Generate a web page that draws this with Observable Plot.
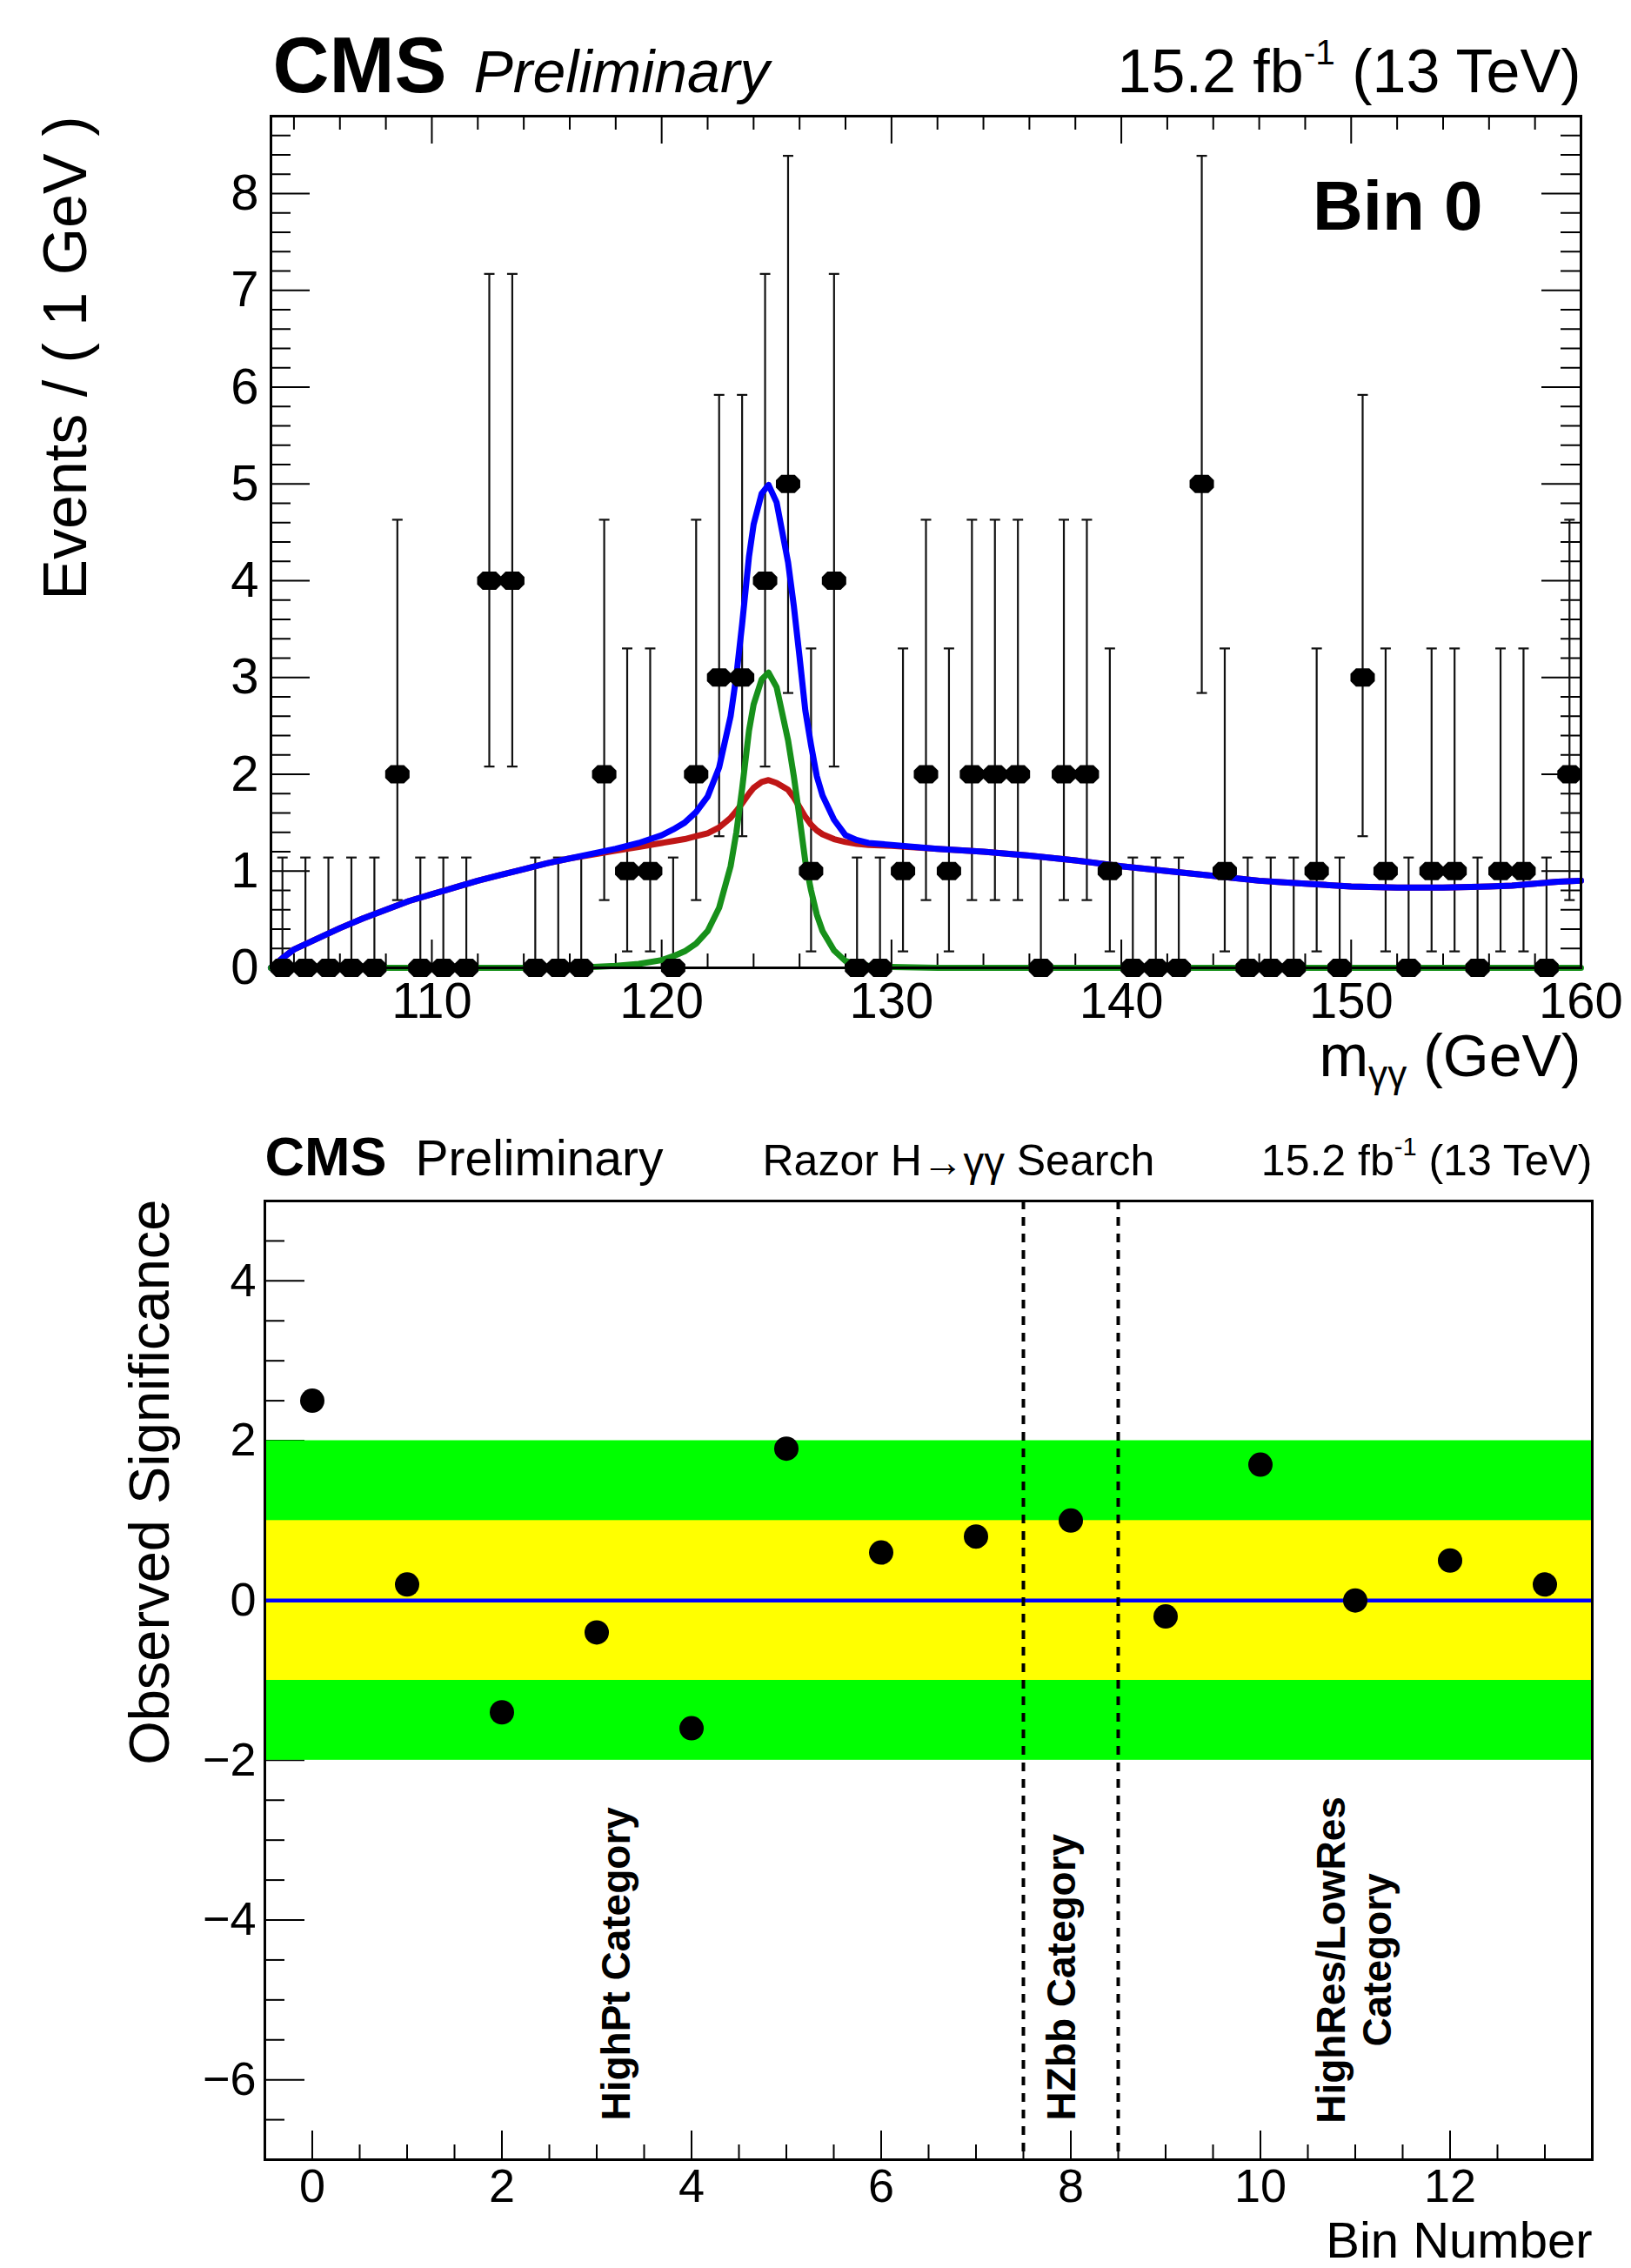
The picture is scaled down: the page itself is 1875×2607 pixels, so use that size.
<!DOCTYPE html>
<html>
<head>
<meta charset="utf-8">
<script src="https://cdn.jsdelivr.net/npm/d3@7"></script>
<script src="https://cdn.jsdelivr.net/npm/@observablehq/plot@0.6"></script>
<style>
html, body { margin: 0; padding: 0; background: #fff; }
svg { display: block; }
</style>
</head>
<body>
<div id="top"></div>
<div id="bottom"></div>
<script>
const FONT = "'Liberation Sans', Arial, Helvetica, sans-serif";

// ---------------- Top panel data (Bin 0 diphoton mass) ----------------
const massBins = [103.5,104.5,105.5,106.5,107.5,108.5,109.5,110.5,111.5,112.5,113.5,114.5,115.5,116.5,117.5,118.5,119.5,120.5,121.5,122.5,123.5,124.5,125.5,126.5,127.5,128.5,129.5,130.5,131.5,132.5,133.5,134.5,135.5,136.5,137.5,138.5,139.5,140.5,141.5,142.5,143.5,144.5,145.5,146.5,147.5,148.5,149.5,150.5,151.5,152.5,153.5,154.5,155.5,156.5,157.5,158.5,159.5];
const eventCounts = [0,0,0,0,0,2,0,0,0,4,4,0,0,0,2,1,1,0,2,3,3,4,5,1,4,0,0,1,2,1,2,2,2,0,2,2,1,0,0,0,5,1,0,0,0,1,0,3,1,0,1,1,0,1,1,0,2];
// error bar ends per observed count (0..5)
const errLow  = [0, 0.17, 0.70, 1.36, 2.08, 2.84];
const errHigh = [1.14, 3.30, 4.63, 5.92, 7.17, 8.39];

const curveMass = [103,103.5,104,105,106,107,108,109,110,111,112,113,114,115,116,117,118,119,120,120.5,121,121.5,122,122.5,123,123.25,123.5,123.8,124,124.35,124.65,125,125.5,125.75,126,126.25,126.5,126.75,127,127.5,128,128.5,129,130,132,134,136,138,140,142,144,146,148,150,152,154,156,157,158,159,160];
const signalCurve = [0,0,0,0,0,0,0,0,0,0,0,0,0,0,0,
  0.01,0.02,0.04,0.08,0.12,0.17,0.25,0.38,0.62,1.05,1.4,1.85,2.45,2.72,2.98,3.05,2.9,2.35,1.98,1.55,1.1,0.8,0.55,0.38,0.18,0.07,0.04,0.02,0.01,
  0,0,0,0,0,0,0,0,0,0,0,0,0,0,0,0,0];
const backgroundCurve = [0,0.1,0.19,0.3,0.41,0.51,0.6,0.69,0.76,0.83,0.9,0.96,1.02,1.08,1.13,
  1.17,1.21,1.25,1.29,1.31,1.33,1.36,1.39,1.45,1.55,1.62,1.7,1.8,1.86,1.92,1.94,1.91,1.84,1.76,1.66,1.56,1.48,1.42,1.38,1.33,1.3,1.28,1.27,1.26,
  1.23,1.2,1.16,1.11,1.05,1.0,0.95,0.9,0.87,0.84,0.83,0.83,0.84,0.85,0.87,0.89,0.9];
const totalCurve = [0,0.1,0.19,0.3,0.41,0.51,0.6,0.69,0.76,0.83,0.9,0.96,1.02,1.08,1.13,
  1.18,1.23,1.29,1.37,1.43,1.5,1.61,1.77,2.07,2.6,3.02,3.55,4.25,4.58,4.9,4.99,4.81,4.19,3.74,3.21,2.66,2.3,1.98,1.78,1.53,1.37,1.32,1.29,1.27,
  1.23,1.2,1.16,1.11,1.05,1.0,0.95,0.9,0.87,0.84,0.83,0.83,0.84,0.85,0.87,0.89,0.9];
const topXTicks = [110,120,130,140,150,160];
const topYTicks = [0,1,2,3,4,5,6,7,8];

// ---------------- Bottom panel data (significance per bin) ----------------
const binNumbers = [0,1,2,3,4,5,6,7,8,9,10,11,12,13];
const significance = [2.5,0.2,-1.4,-0.4,-1.6,1.9,0.6,0.8,1.0,-0.2,1.7,0.0,0.5,0.2];
const bandLow = [-2,-1];
const bandHigh = [2,1];
const bandColors = ["#00ff00","#ffff00"];
const categoryEdges = [7.5,8.5];
const categoryNames = ["HighPt Category","HZbb Category","HighRes/LowRes\nCategory"];
const categoryX = [3.21,7.91,10.98];
const categoryY = [-6.51,-6.51,-4.5];
const categoryAnchor = ["start","start","middle"];
const bottomXTicks = [0,2,4,6,8,10,12];
const bottomYTicks = [-6,-4,-2,0,2,4];

// ---------------- helpers ----------------
const points = massBins.map((m,i) => ({m, n: eventCounts[i], lo: errLow[eventCounts[i]], hi: errHigh[eventCounts[i]]}));
const curves = curveMass.map((m,i) => ({m, sig: signalCurve[i], bkg: backgroundCurve[i], tot: totalCurve[i]}));
const sigRows = binNumbers.map((b,i) => ({bin: b, s: significance[i]}));
const bands = bandLow.map((l,i) => ({lo: l, hi: bandHigh[i], c: bandColors[i]}));
const cats = categoryNames.map((t,i) => ({t, x: categoryX[i], y: categoryY[i], a: categoryAnchor[i]}));

const hbar = {draw(ctx, size){ const r = Math.sqrt(size/Math.PI); ctx.moveTo(-r,0); ctx.lineTo(r,0); }};
const octo = {draw(ctx, size){
  const r = Math.sqrt(size/Math.PI);
  const p = [[-1,-0.3],[-0.55,-0.75],[0.55,-0.75],[1,-0.3],[1,0.3],[0.55,0.75],[-0.55,0.75],[-1,0.3]];
  ctx.moveTo(p[0][0]*r, p[0][1]*r);
  for (let i = 1; i < p.length; i++) ctx.lineTo(p[i][0]*r, p[i][1]*r);
  ctx.closePath();
}};

const label = (s, o) => Plot.text([s], {fontFamily: FONT, fill: "black", ...o});
const notInt = (v, step) => Math.abs(v/step - Math.round(v/step)) > 1e-6;

// ticks inside frame
function ticksX(vals, len, FH, {bottom = true, top = false, sw = 2} = {}) {
  const out = [];
  if (bottom) out.push(Plot.ruleX(vals, {x: d => d, insetTop: FH - len, stroke: "black", strokeWidth: sw}));
  if (top) out.push(Plot.ruleX(vals, {x: d => d, insetBottom: FH - len, stroke: "black", strokeWidth: sw}));
  return out;
}
function ticksY(vals, len, FW, {left = true, right = false, sw = 2} = {}) {
  const out = [];
  if (left) out.push(Plot.ruleY(vals, {y: d => d, insetRight: FW - len, stroke: "black", strokeWidth: sw}));
  if (right) out.push(Plot.ruleY(vals, {y: d => d, insetLeft: FW - len, stroke: "black", strokeWidth: sw}));
  return out;
}

function richify(svg) {
  for (const t of svg.querySelectorAll("text")) {
    const s = t.textContent;
    if (!/[\^_~]\{/.test(s)) continue;
    const fs = parseFloat(getComputedStyle(t).fontSize);
    while (t.firstChild) t.removeChild(t.firstChild);
    const re = /([\^_~])\{([^}]*)\}/g;
    let last = 0, m, shift = 0;
    const add = (str, size, target) => {
      if (!str) return;
      const ts = document.createElementNS("http://www.w3.org/2000/svg", "tspan");
      ts.textContent = str;
      if (size) ts.setAttribute("font-size", size);
      const d = target - shift;
      if (d) ts.setAttribute("dy", d);
      shift = target;
      t.appendChild(ts);
    };
    while ((m = re.exec(s))) {
      add(s.slice(last, m.index), null, 0);
      if (m[1] === "^") add(m[2], fs * 0.58, -fs * 0.45);
      else if (m[1] === "_") add(m[2], fs * 0.65, fs * 0.2);
      else add(m[2], fs * 0.95, fs * 0.03);
      last = re.lastIndex;
    }
    add(s.slice(last), null, 0);
  }
}

// ---------------- top panel ----------------
const W = 1875;
const H1 = 1270, mT1 = 133, mB1 = 158, mL1 = 311, mR1 = 58;
const FH1 = H1 - mT1 - mB1, FW1 = W - mL1 - mR1;
const xMinor1 = d3.range(104, 160, 2).filter(v => notInt(v, 10));
const yMinor1 = d3.range(0.2, 8.81, 0.2).map(v => Math.round(v*10)/10).filter(v => notInt(v, 1));

const RED = "#bf1616", GREEN = "#17901a", BLUE = "#0000ff";

const topPlot = Plot.plot({
  width: W, height: H1,
  marginLeft: mL1, marginRight: mR1, marginTop: mT1, marginBottom: mB1,
  style: {fontFamily: FONT, fontSize: "58px", background: "white", color: "black"},
  x: {domain: [103, 160], ticks: topXTicks, tickSize: 0, tickPadding: 16, label: null},
  y: {domain: [0, 8.8], ticks: topYTicks, tickSize: 0, tickPadding: 14, label: null},
  marks: [
    ...ticksX(topXTicks, 32, FH1, {top: true}),
    ...ticksX(xMinor1, 16, FH1, {top: true}),
    ...ticksY(topYTicks, 45, FW1, {right: true}),
    ...ticksY(yMinor1, 23, FW1, {right: true}),
    Plot.ruleX(points, {x: "m", y1: "lo", y2: "hi", stroke: "#111", strokeWidth: 2.2}),
    Plot.dot(points, {x: "m", y: "hi", symbol: hbar, r: 6, stroke: "#111", strokeWidth: 2.2, fill: "none"}),
    Plot.dot(points, {x: "m", y: "lo", symbol: hbar, r: 6, stroke: "#111", strokeWidth: 2.2, fill: "none"}),
    Plot.line(curves, {x: "m", y: "bkg", stroke: RED, strokeWidth: 7, strokeLinejoin: "round"}),
    Plot.line(curves, {x: "m", y: "tot", stroke: BLUE, strokeWidth: 7, strokeLinejoin: "round"}),
    Plot.line(curves, {x: "m", y: "sig", stroke: GREEN, strokeWidth: 7, strokeLinejoin: "round"}),
    Plot.dot(points, {x: "m", y: "n", symbol: octo, r: 14, fill: "black", stroke: "none"}),
    Plot.frame({stroke: "black", strokeWidth: 3}),
    label("CMS", {frameAnchor: "top-left", textAnchor: "start", lineAnchor: "bottom", dx: 2, dy: -28, fontSize: 90, fontWeight: "bold"}),
    label("Preliminary", {frameAnchor: "top-left", textAnchor: "start", lineAnchor: "bottom", dx: 233, dy: -28, fontSize: 68, fontStyle: "italic"}),
    label("15.2 fb^{-1} (13 TeV)", {frameAnchor: "top-right", textAnchor: "end", lineAnchor: "bottom", dx: 0, dy: -28, fontSize: 70}),
    label("Bin 0", {frameAnchor: "top-right", textAnchor: "end", lineAnchor: "bottom", dx: -113, dy: 130, fontSize: 80, fontWeight: "bold"}),
    label("Events / ( 1 GeV )", {frameAnchor: "top-left", textAnchor: "end", lineAnchor: "middle", rotate: -90, dx: -235, dy: 0, fontSize: 70}),
    label("m_{γγ} (GeV)", {frameAnchor: "bottom-right", textAnchor: "end", lineAnchor: "bottom", dx: 0, dy: 124, fontSize: 68})
  ]
});
document.getElementById("top").appendChild(topPlot);
richify(topPlot);

// ---------------- bottom panel ----------------
const H2 = 1337, mT2 = 110, mB2 = 125, mL2 = 304, mR2 = 45;
const FH2 = H2 - mT2 - mB2, FW2 = W - mL2 - mR2;
const xMinor2 = d3.range(0, 13.01, 0.5).filter(v => notInt(v, 2));
const yMinor2 = d3.range(-6.5, 5, 0.5).filter(v => notInt(v, 2));

const bottomPlot = Plot.plot({
  width: W, height: H2,
  marginLeft: mL2, marginRight: mR2, marginTop: mT2, marginBottom: mB2,
  style: {fontFamily: FONT, fontSize: "54px", background: "white", color: "black"},
  x: {domain: [-0.5, 13.5], ticks: bottomXTicks, tickSize: 0, tickPadding: 10, fontSize: 52, label: null},
  y: {domain: [-7, 5], ticks: bottomYTicks, tickSize: 0, tickPadding: 10, label: null},
  marks: [
    ...ticksX(bottomXTicks, 33, FH2),
    ...ticksX(xMinor2, 17, FH2),
    ...ticksY(bottomYTicks, 46, FW2),
    ...ticksY(yMinor2, 23, FW2),
    Plot.rect(bands, {y1: "lo", y2: "hi", fill: "c"}),
    Plot.ruleY([0], {stroke: BLUE, strokeWidth: 4.5}),
    Plot.ruleX(categoryEdges, {stroke: "black", strokeWidth: 4, strokeDasharray: "10,9"}),
    Plot.dot(sigRows, {x: "bin", y: "s", r: 14, fill: "black", stroke: "none"}),
    Plot.frame({stroke: "black", strokeWidth: 3}),
    Plot.text(cats.filter(d => d.a === "start"), {x: "x", y: "y", text: "t", rotate: -90, textAnchor: "start", lineAnchor: "middle", fontSize: 46, fontWeight: "bold", fontFamily: FONT, fill: "black"}),
    Plot.text(cats.filter(d => d.a === "middle"), {x: "x", y: "y", text: "t", rotate: -90, textAnchor: "middle", lineAnchor: "middle", lineHeight: 1.15, fontSize: 46, fontWeight: "bold", fontFamily: FONT, fill: "black"}),
    label("CMS", {frameAnchor: "top-left", textAnchor: "start", lineAnchor: "bottom", dx: 0, dy: -30, fontSize: 63, fontWeight: "bold"}),
    label("Preliminary", {frameAnchor: "top-left", textAnchor: "start", lineAnchor: "bottom", dx: 173, dy: -30, fontSize: 57}),
    label("Razor H~{→γγ} Search", {frameAnchor: "top-left", textAnchor: "start", lineAnchor: "bottom", dx: 572, dy: -30, fontSize: 50}),
    label("15.2 fb^{-1} (13 TeV)", {frameAnchor: "top-right", textAnchor: "end", lineAnchor: "bottom", dx: 0, dy: -30, fontSize: 50}),
    label("Observed Significance", {frameAnchor: "top-left", textAnchor: "end", lineAnchor: "middle", rotate: -90, dx: -131, dy: -2, fontSize: 65}),
    label("Bin Number", {frameAnchor: "bottom-right", textAnchor: "end", lineAnchor: "bottom", dx: 0, dy: 112, fontSize: 58})
  ]
});
document.getElementById("bottom").appendChild(bottomPlot);
richify(bottomPlot);
</script>
</body>
</html>
